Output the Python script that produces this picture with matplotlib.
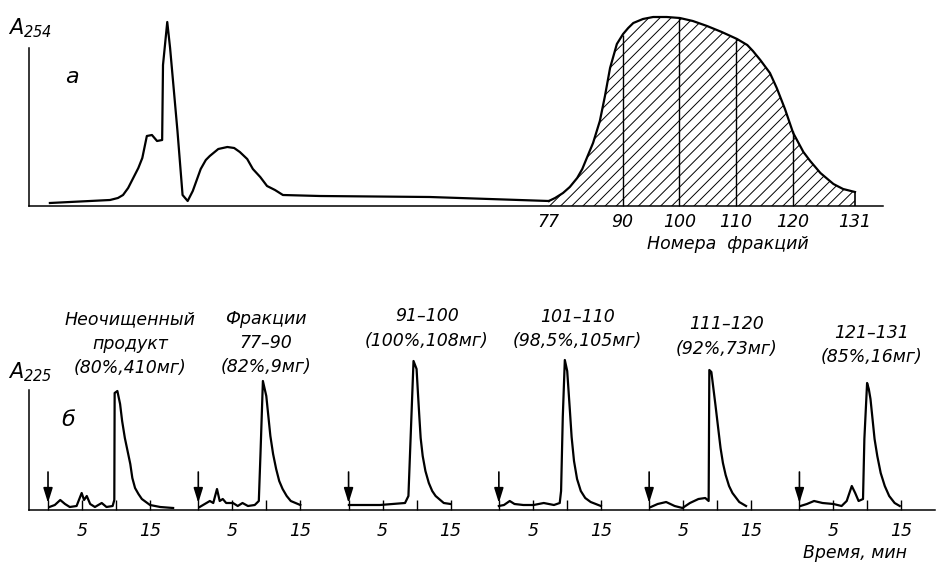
import matplotlib
matplotlib.use("Agg")
import matplotlib.pyplot as plt
import numpy as np

plt.rcParams.update({
    "font.family": "DejaVu Sans",
    "font.style": "italic",
    "mathtext.fontset": "dejavusans",
    "hatch.linewidth": 0.7,
})

# --- (a) preparative run, A254 vs fraction number (arbitrary units) ---
frac_left = [-11.0, -0.4, 1.0, 1.9, 2.8, 3.7, 4.6, 5.3, 6.1, 7.0, 7.9, 8.8, 8.95,
             9.7, 10.2, 11.5, 12.4, 13.3, 14.2, 14.9, 15.6, 16.5, 17.2, 18.7,
             20.3, 21.5, 22.5, 23.8, 24.8, 26.1, 27.3, 28.7, 30.1, 36.6, 56.0,
             77.0]
a254_left = [3, 6, 8, 11, 18, 28, 38, 48, 70, 71, 65, 66, 141,
             184, 158, 75, 11, 5, 15, 26, 37, 46, 50, 57,
             59, 58, 54, 47, 37, 29, 20, 16, 11, 10, 9,
             5]

frac_peak = [77.0, 78.1, 79.5, 80.7, 82.0, 82.9, 83.7, 84.8, 86.0, 86.9, 87.8,
             89.0, 90.1, 91.0, 91.9, 93.6, 95.4, 97.8, 100.1, 102.4, 104.9, 107.5,
             110.2, 112.0, 113.0, 114.3, 116.0, 117.2, 118.65, 120.1, 121.9, 123.1,
             124.9, 127.2, 128.9, 131.0]
a254_peak = [5, 8, 13, 19, 28, 37, 48, 63, 85, 110, 138,
             162, 172, 178, 183, 187, 189, 189, 188, 185, 180, 174,
             167, 161, 155, 146, 133, 118, 97, 73, 54, 45,
             33, 22, 17, 14]

frac_ticks = [77, 90, 100, 110, 120, 131]
cut_points = [90, 100, 110, 120]

# --- (б) analytical runs, A225 vs time (min) ---
run_labels = [
    "Неочищенный\nпродукт\n(80%,410мг)",
    "Фракции\n77–90\n(82%,9мг)",
    "91–100\n(100%,108мг)",
    "101–110\n(98,5%,105мг)",
    "111–120\n(92%,73мг)",
    "121–131\n(85%,16мг)",
]
run_times = [
    [0.2, 1.0, 1.8, 2.5, 3.2, 4.2, 4.95, 5.3, 5.7, 6.2, 6.9, 7.9, 8.6, 9.5, 9.75,
     9.8, 10.2, 10.6, 10.9, 11.3, 11.7, 12.1, 12.4, 12.8, 13.3, 13.8, 15.0,
     16.5, 18.4],
    [0.2, 0.95, 1.7, 2.2, 2.75, 3.15, 3.6, 4.1, 5.1, 5.8, 6.5, 7.3, 8.3, 8.9, 9.15,
     9.5, 10.0, 10.3, 10.6, 11.0, 11.45, 11.9, 12.4, 13.0, 13.6, 15.0],
    [0.05, 4.6, 8.3, 8.8, 9.15, 9.55, 10.0, 10.2, 10.4, 10.6, 10.9, 11.3, 11.8,
     12.3, 12.8, 14.0, 15.0],
    [0.0, 0.75, 1.6, 2.3, 3.6, 5.1, 6.6, 8.1, 8.95, 9.15, 9.4, 9.7, 10.05, 10.25,
     10.45, 10.7, 11.05, 11.5, 12.05, 12.7, 13.5, 15.0],
    [0.25, 1.25, 2.5, 3.75, 4.9, 6.0, 7.25, 8.25, 8.75, 8.85, 9.15, 9.75, 10.15,
     10.5, 10.85, 11.25, 11.75, 12.25, 13.25, 14.25],
    [0.15, 1.1, 2.15, 3.4, 5.0, 6.2, 6.95, 7.7, 8.2, 8.7, 9.35, 9.55, 9.95, 10.2,
     10.45, 10.75, 11.05, 11.45, 11.95, 12.55, 13.2, 14.0, 14.75],
]
run_a225 = [
    [3, 5, 10, 6, 3, 4, 17, 10, 14, 6, 3, 7, 3, 4, 10,
     117, 119, 106, 89, 72, 59, 46, 32, 22, 16, 11, 5,
     3, 2],
    [3, 6, 9, 7, 21, 9, 11, 7, 7, 4, 7, 4, 5, 9, 57,
     129, 114, 94, 74, 56, 41, 29, 21, 14, 9, 5],
    [5, 5, 7, 14, 77, 149, 141, 117, 94, 72, 54, 39, 27,
     19, 14, 7, 6],
    [4, 5, 9, 6, 5, 5, 7, 5, 7, 19, 93, 150, 139, 119,
     99, 73, 49, 31, 19, 12, 8, 4],
    [3, 6, 8, 4, 2, 7, 11, 12, 9, 140, 138, 105, 82,
     62, 47, 35, 24, 17, 8, 4],
    [4, 6, 9, 7, 6, 4, 9, 24, 17, 9, 11, 71, 127, 121,
     111, 91, 71, 54, 37, 24, 14, 7, 4],
]
run_spacing = 22.1  # min between consecutive traces on the common axis

fig = plt.figure(figsize=(9.44, 5.64), dpi=100)
fig.patch.set_facecolor("white")

# ---------------- top panel ----------------
ax_t = fig.add_axes([0, 1 - 260 / 564, 1, 260 / 564])
ax_t.set_facecolor("none")
ax_t.set_xlim(-19.8, 146.7)
ax_t.set_ylim(-54, 206)

ax_t.plot(frac_left, a254_left, color="black", lw=1.6, solid_joinstyle="round")
ax_t.plot(frac_peak, a254_peak, color="black", lw=1.6, solid_joinstyle="round")
ax_t.fill_between(frac_peak, 0, a254_peak, facecolor="none", edgecolor="black",
                  hatch="///", linewidth=0)
ax_t.vlines(frac_peak[-1], 0, a254_peak[-1], color="black", lw=1.2)
ax_t.vlines(cut_points, 0, np.interp(cut_points, frac_peak, a254_peak),
            color="black", lw=1.0)

for side in ["top", "right"]:
    ax_t.spines[side].set_visible(False)
ax_t.spines["left"].set_position(("data", -14.7))
ax_t.spines["left"].set_bounds(0, 158)
ax_t.spines["bottom"].set_position(("data", 0))
ax_t.spines["bottom"].set_bounds(-14.7, 135.9)
for side in ["left", "bottom"]:
    ax_t.spines[side].set_linewidth(1.1)
ax_t.set_yticks([])
ax_t.set_xticks(frac_ticks)
ax_t.set_xticklabels([str(v) for v in frac_ticks])
ax_t.tick_params(axis="x", length=0, pad=5, labelsize=12.5)
ax_t.text(-7.1, 129, "а", fontsize=16, ha="center", va="center")
ax_t.text(108.5, -38, "Номера  фракций", fontsize=12.5, ha="center", va="center")

# ---------------- bottom panel ----------------
ax_b = fig.add_axes([0, 0, 1, 270 / 564])
ax_b.set_facecolor("none")
ax_b.set_xlim(-7.06, 131.76)
ax_b.set_ylim(-54, 216)

major, minor, labels = [], [], []
label_dx = [12.1, 9.9, 11.5, 11.5, 11.4, 10.6]
label_h = [166, 167, 181.5, 181, 173.5, 165]
for i, (t, a) in enumerate(zip(run_times, run_a225)):
    off = i * run_spacing
    ax_b.plot(np.array(t) + off, a, color="black", lw=1.6, solid_joinstyle="round")
    ax_b.annotate("", xy=(off, 7), xytext=(off, 38),
                  arrowprops=dict(arrowstyle="-|>,head_length=0.9,head_width=0.28",
                                  color="black", lw=1.2, shrinkA=0, shrinkB=0))
    major += [off + 5, off + 15]
    minor += [off, off + 10]
    labels += ["5", "15"]
    ax_b.text(off + label_dx[i], label_h[i], run_labels[i], fontsize=12.5,
              ha="center", va="center", linespacing=1.45)

for side in ["top", "right"]:
    ax_b.spines[side].set_visible(False)
ax_b.spines["left"].set_position(("data", -2.8))
ax_b.spines["left"].set_bounds(0, 120)
ax_b.spines["bottom"].set_position(("data", 0))
ax_b.spines["bottom"].set_bounds(-2.8, 130.4)
for side in ["left", "bottom"]:
    ax_b.spines[side].set_linewidth(1.1)
ax_b.set_yticks([])
ax_b.set_xticks(major)
ax_b.set_xticklabels(labels)
ax_b.set_xticks(minor, minor=True)
ax_b.tick_params(axis="x", which="both", direction="in", length=7, width=1.0,
                 pad=9, labelsize=12.5)
ax_b.text(2.9, 90, "б", fontsize=16, ha="center", va="center")
ax_b.text(118.7, -43, "Время, мин", fontsize=12.5, ha="center", va="center")

fig.text(8 / 944, 1 - 28 / 564, r"$\mathit{A}_{\mathit{254}}$", fontsize=15,
         ha="left", va="center")
fig.text(8 / 944, 1 - 372 / 564, r"$\mathit{A}_{\mathit{225}}$", fontsize=15,
         ha="left", va="center")

fig.savefig("out.png", dpi=100)
